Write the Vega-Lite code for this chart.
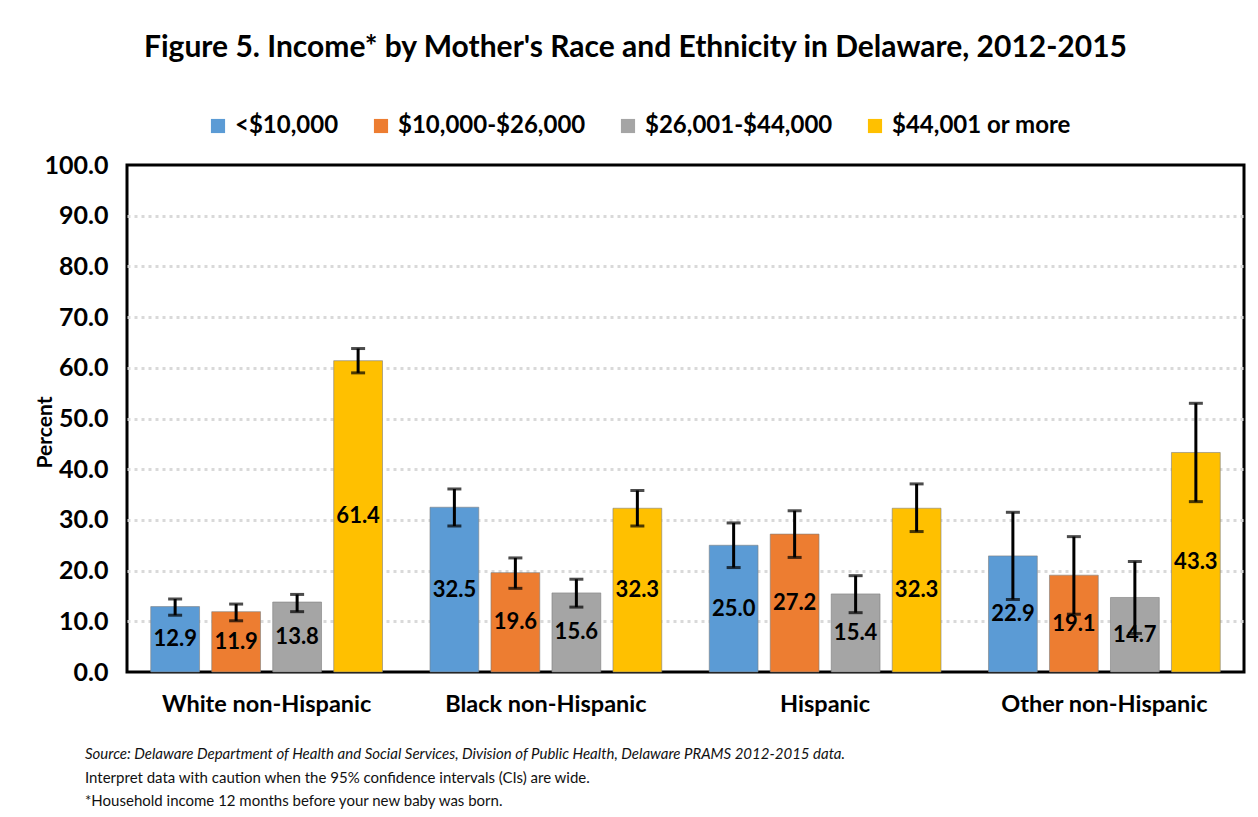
{
  "$schema": "https://vega.github.io/schema/vega-lite/v6.json",
  "width": 1117,
  "height": 507,
  "autosize": {"type": "none"},
  "padding": {"left": 127, "top": 165, "right": 14, "bottom": 145},
  "background": "white",
  "config": {
    "view": {"stroke": "#000000", "strokeWidth": 3},
    "font": "Lato"
  },
  "title": {
    "text": "Source: Delaware Department of Health and Social Services, Division of Public Health, Delaware PRAMS 2012-2015 data.",
    "subtitle": ["Interpret data with caution when the 95% confidence intervals (CIs) are wide.", "*Household income 12 months before your new baby was born."],
    "orient": "bottom",
    "anchor": "start",
    "frame": "group",
    "dx": -42,
    "offset": 31,
    "font": "Lato",
    "fontSize": 15,
    "fontStyle": "italic",
    "fontWeight": "normal",
    "color": "#111111",
    "subtitleFont": "Lato",
    "subtitleFontSize": 15,
    "subtitleColor": "#111111",
    "subtitlePadding": 9,
    "subtitleLineHeight": 23.5
  },
  "data": {
    "values": [
      {"group": "White non-Hispanic", "income": "<$10,000", "value": 12.9, "lo": 11.2, "hi": 14.4},
      {"group": "White non-Hispanic", "income": "$10,000-$26,000", "value": 11.9, "lo": 10.1, "hi": 13.4},
      {"group": "White non-Hispanic", "income": "$26,001-$44,000", "value": 13.8, "lo": 11.9, "hi": 15.3},
      {"group": "White non-Hispanic", "income": "$44,001 or more", "value": 61.4, "lo": 59.0, "hi": 63.8},
      {"group": "Black non-Hispanic", "income": "<$10,000", "value": 32.5, "lo": 28.8, "hi": 36.1},
      {"group": "Black non-Hispanic", "income": "$10,000-$26,000", "value": 19.6, "lo": 16.5, "hi": 22.5},
      {"group": "Black non-Hispanic", "income": "$26,001-$44,000", "value": 15.6, "lo": 12.8, "hi": 18.3},
      {"group": "Black non-Hispanic", "income": "$44,001 or more", "value": 32.3, "lo": 28.8, "hi": 35.8},
      {"group": "Hispanic", "income": "<$10,000", "value": 25.0, "lo": 20.6, "hi": 29.4},
      {"group": "Hispanic", "income": "$10,000-$26,000", "value": 27.2, "lo": 22.6, "hi": 31.8},
      {"group": "Hispanic", "income": "$26,001-$44,000", "value": 15.4, "lo": 11.7, "hi": 19.0},
      {"group": "Hispanic", "income": "$44,001 or more", "value": 32.3, "lo": 27.7, "hi": 37.1},
      {"group": "Other non-Hispanic", "income": "<$10,000", "value": 22.9, "lo": 14.3, "hi": 31.5},
      {"group": "Other non-Hispanic", "income": "$10,000-$26,000", "value": 19.1, "lo": 11.4, "hi": 26.7},
      {"group": "Other non-Hispanic", "income": "$26,001-$44,000", "value": 14.7, "lo": 7.6, "hi": 21.8},
      {"group": "Other non-Hispanic", "income": "$44,001 or more", "value": 43.3, "lo": 33.6, "hi": 53.0}
    ]
  },
  "layer": [
    {
      "mark": {"type": "bar", "strokeWidth": 1, "stroke": "#7f7f7f", "strokeOpacity": 0.6},
      "encoding": {
        "x": {
          "field": "group", "type": "nominal",
          "sort": ["White non-Hispanic", "Black non-Hispanic", "Hispanic", "Other non-Hispanic"],
          "scale": {"paddingInner": 0.17, "paddingOuter": 0.085},
          "axis": {
            "title": null, "labelAngle": 0, "labelFont": "Lato", "labelFontSize": 23.5,
            "labelFontWeight": "bold", "labelColor": "#000000", "labelPadding": 20,
            "labelLimit": 0, "ticks": false, "domain": false, "grid": false
          }
        },
        "xOffset": {
          "field": "income", "type": "nominal",
          "sort": ["<$10,000", "$10,000-$26,000", "$26,001-$44,000", "$44,001 or more"],
          "scale": {"paddingInner": 0.2, "paddingOuter": 0}
        },
        "y": {
          "field": "value", "type": "quantitative",
          "scale": {"domain": [0, 100], "nice": false},
          "axis": {
            "values": [0, 10, 20, 30, 40, 50, 60, 70, 80, 90, 100],
            "format": ".1f",
            "labelFont": "Lato", "labelFontSize": 25, "labelFontWeight": "bold",
            "labelColor": "#000000", "labelPadding": 19,
            "ticks": false, "domain": false,
            "grid": true, "gridColor": "#d9d9d9", "gridDash": [3, 4], "gridWidth": 3,
            "gridOpacity": {"condition": {"test": "datum.value === 0 || datum.value === 100", "value": 0}, "value": 1},
            "title": "Percent", "titleFont": "Lato", "titleFontSize": 21, "titleFontWeight": "bold",
            "titleColor": "#000000", "titleX": -82, "titleY": 267, "titleAngle": 270,
            "titleBaseline": "middle", "titleAlign": "center"
          }
        },
        "color": {
          "field": "income", "type": "nominal",
          "sort": ["<$10,000", "$10,000-$26,000", "$26,001-$44,000", "$44,001 or more"],
          "scale": {
            "domain": ["<$10,000", "$10,000-$26,000", "$26,001-$44,000", "$44,001 or more"],
            "range": ["#5B9BD5", "#ED7D31", "#A5A5A5", "#FFC000"]
          },
          "legend": {
            "orient": "none", "legendX": 79, "legendY": -51, "direction": "horizontal",
            "columns": 4, "title": null, "symbolType": "square", "symbolSize": 200,
            "symbolStrokeWidth": 0, "labelFont": "Lato", "labelFontSize": 24,
            "labelFontWeight": "bold", "labelColor": "#000000", "columnPadding": 30,
            "labelOffset": 5, "labelLimit": 0, "padding": 0
          }
        }
      }
    },
    {
      "mark": {"type": "text", "font": "Lato", "fontSize": 22, "fontWeight": "bold", "color": "#000000", "baseline": "middle", "align": "center"},
      "encoding": {
        "x": {
          "field": "group", "type": "nominal",
          "sort": ["White non-Hispanic", "Black non-Hispanic", "Hispanic", "Other non-Hispanic"],
          "axis": null
        },
        "xOffset": {
          "field": "income", "type": "nominal",
          "sort": ["<$10,000", "$10,000-$26,000", "$26,001-$44,000", "$44,001 or more"]
        },
        "y": {
          "field": "value", "type": "quantitative",
          "scale": {"domain": [0, 200], "nice": false},
          "axis": null
        },
        "text": {"field": "value", "type": "quantitative", "format": ".1f"}
      }
    },
    {
      "mark": {"type": "rule", "color": "#000000", "strokeWidth": 3},
      "encoding": {
        "x": {
          "field": "group", "type": "nominal",
          "sort": ["White non-Hispanic", "Black non-Hispanic", "Hispanic", "Other non-Hispanic"],
          "axis": {
            "orient": "top", "labels": false, "ticks": false, "domain": false, "grid": false,
            "title": "Figure 5. Income* by Mother's Race and Ethnicity in Delaware, 2012-2015",
            "titleFont": "Lato", "titleFontSize": 30, "titleFontWeight": "bold",
            "titleColor": "#000000", "titleX": 508, "titleY": -109, "titleLimit": 0,
            "titleBaseline": "alphabetic", "titleAlign": "center", "titleAngle": 0
          }
        },
        "xOffset": {
          "field": "income", "type": "nominal",
          "sort": ["<$10,000", "$10,000-$26,000", "$26,001-$44,000", "$44,001 or more"]
        },
        "y": {"field": "lo", "type": "quantitative", "scale": {"domain": [0, 100], "nice": false}, "axis": null},
        "y2": {"field": "hi"}
      }
    },
    {
      "mark": {"type": "tick", "color": "#000000", "thickness": 3, "size": 14, "orient": "horizontal"},
      "encoding": {
        "x": {
          "field": "group", "type": "nominal",
          "sort": ["White non-Hispanic", "Black non-Hispanic", "Hispanic", "Other non-Hispanic"],
          "axis": null
        },
        "xOffset": {
          "field": "income", "type": "nominal",
          "sort": ["<$10,000", "$10,000-$26,000", "$26,001-$44,000", "$44,001 or more"]
        },
        "y": {"field": "lo", "type": "quantitative", "scale": {"domain": [0, 100], "nice": false}, "axis": null}
      }
    },
    {
      "mark": {"type": "tick", "color": "#000000", "thickness": 3, "size": 14, "orient": "horizontal"},
      "encoding": {
        "x": {
          "field": "group", "type": "nominal",
          "sort": ["White non-Hispanic", "Black non-Hispanic", "Hispanic", "Other non-Hispanic"],
          "axis": null
        },
        "xOffset": {
          "field": "income", "type": "nominal",
          "sort": ["<$10,000", "$10,000-$26,000", "$26,001-$44,000", "$44,001 or more"]
        },
        "y": {"field": "hi", "type": "quantitative", "scale": {"domain": [0, 100], "nice": false}, "axis": null}
      }
    }
  ],
  "resolve": {"scale": {"y": "independent"}, "axis": {"x": "independent", "y": "independent"}}
}
